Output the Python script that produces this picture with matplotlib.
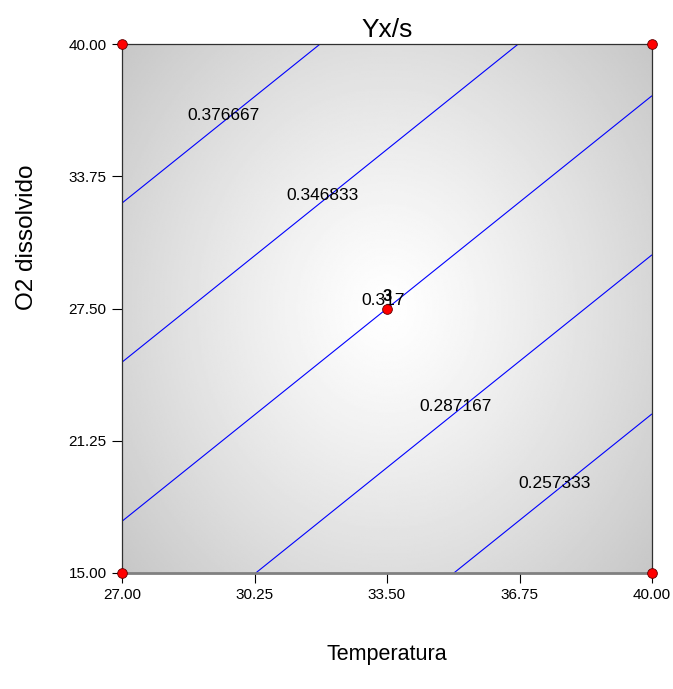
import numpy as np
import matplotlib.pyplot as plt

# design space and predicted response at the corners (linear model)
temp = [27.0, 40.0]
o2 = [15.0, 40.0]
yxs = [[0.3073, 0.2275],   # O2 = 15
       [0.4065, 0.3267]]   # O2 = 40

levels = [0.257333, 0.287167, 0.317, 0.346833, 0.376667]
level_labels = ["0.257333", "0.287167", "0.317", "0.346833", "0.376667"]

# design points
pts_x = [27.0, 40.0, 27.0, 40.0, 33.5]
pts_y = [15.0, 15.0, 40.0, 40.0, 27.5]
center_reps = "3"

xticks = [27.0, 30.25, 33.5, 36.75, 40.0]
yticks = [15.0, 21.25, 27.5, 33.75, 40.0]

plt.rcParams['font.family'] = ['Liberation Sans', 'DejaVu Sans']

fig = plt.figure(figsize=(6.73, 6.89), dpi=100)
ax = fig.add_axes([122/673, 116/689, 530/673, 529/689])

# grey shading, light in the middle
gx, gy = np.meshgrid(np.linspace(-1, 1, 300), np.linspace(-1, 1, 300))
r = np.sqrt((1.15*gx**2 + 0.85*gy**2) / 2)
shade = 1 - 0.22*r**1.2
ax.imshow(shade, cmap='gray', vmin=0, vmax=1, extent=[27, 40, 15, 40],
          aspect='auto', origin='lower', zorder=0)

X, Y = np.meshgrid(temp, o2)
ax.contour(X, Y, np.array(yxs), levels=levels, colors='#0000ff', linewidths=0.8, zorder=2)

label_pos = [(37.62, 19.21), (35.17, 22.89), (33.40, 27.90), (31.93, 32.86), (29.48, 36.64)]
for (lx, ly), lab in zip(label_pos, level_labels):
    ax.text(lx, ly, lab, fontsize=12.5, ha='center', va='center', zorder=3)

ax.plot(pts_x, pts_y, 'o', color='#ff0000', markeredgecolor='#600000',
        markeredgewidth=0.6, markersize=7, clip_on=False, zorder=5)
ax.text(33.5, 28.05, center_reps, fontsize=12, fontweight='bold', ha='center', va='center', zorder=4)

ax.set_xlim(27, 40)
ax.set_ylim(15, 40)
ax.set_xticks(xticks)
ax.set_yticks(yticks)
ax.set_xticklabels(["%.2f" % v for v in xticks])
ax.set_yticklabels(["%.2f" % v for v in yticks])
ax.tick_params(direction='out', length=7, width=0.8, labelsize=11, pad=4)

for s in ['left', 'top', 'right']:
    ax.spines[s].set_color('#303030')
    ax.spines[s].set_linewidth(0.9)
ax.spines['bottom'].set_color('#808080')
ax.spines['bottom'].set_linewidth(2)

ax.set_title("Yx/s", fontsize=19, pad=5)
ax.set_xlabel("Temperatura", fontsize=15.5, labelpad=30)
ax.set_ylabel("O2 dissolvido", fontsize=17.5, labelpad=22, y=0.635)

fig.savefig("out.png", dpi=100)
